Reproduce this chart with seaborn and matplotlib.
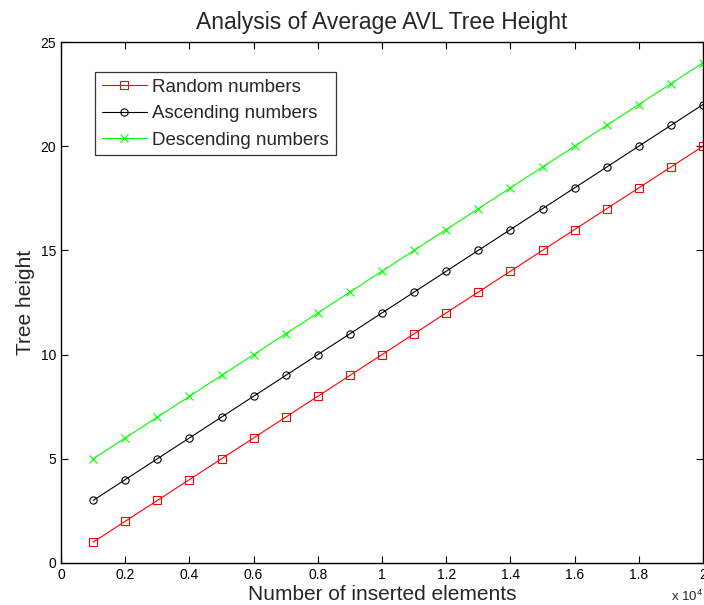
import numpy as np
import pandas as pd
import matplotlib
matplotlib.use("Agg")
import matplotlib.pyplot as plt
from matplotlib.ticker import FuncFormatter
import seaborn as sns

# Data
n_elements = [1000, 2000, 3000, 4000, 5000, 6000, 7000, 8000, 9000, 10000,
              11000, 12000, 13000, 14000, 15000, 16000, 17000, 18000, 19000, 20000]
random_height = [1, 2, 3, 4, 5, 6, 7, 8, 9, 10, 11, 12, 13, 14, 15, 16, 17, 18, 19, 20]
ascending_height = [3, 4, 5, 6, 7, 8, 9, 10, 11, 12, 13, 14, 15, 16, 17, 18, 19, 20, 21, 22]
descending_height = [5, 6, 7, 8, 9, 10, 11, 12, 13, 14, 15, 16, 17, 18, 19, 20, 21, 22, 23, 24]

series = [
    ("Random numbers", random_height, "#ff0000", "s"),
    ("Ascending numbers", ascending_height, "#000000", "o"),
    ("Descending numbers", descending_height, "#00ff00", "x"),
]

sns.set_style("white")
plt.rcParams["font.family"] = ["Liberation Sans", "DejaVu Sans"]
plt.rcParams["mathtext.fontset"] = "custom"
plt.rcParams["mathtext.rm"] = "Liberation Sans"

fig = plt.figure(figsize=(7.04, 6.05), dpi=100)
ax = fig.add_axes([61 / 704, 42 / 605, 642 / 704, 521 / 605])

for label, values, color, marker in series:
    df = pd.DataFrame({"n": n_elements, "h": values})
    sns.lineplot(data=df, x="n", y="h", ax=ax, color=color, marker=marker,
                 markersize=5.2, markerfacecolor="none", markeredgecolor=color,
                 markeredgewidth=0.8, linewidth=0.8, label=label)

ax.set_xlim(0, 20000)
ax.set_ylim(0, 25)
ax.set_xticks(np.arange(0, 20001, 2000))
ax.set_yticks(np.arange(0, 26, 5))
ax.xaxis.set_major_formatter(FuncFormatter(lambda v, p: f"{v / 1e4:g}"))
ax.tick_params(direction="in", length=5, width=0.8, labelsize=10,
               top=True, right=True, bottom=True, left=True, colors="black")
for s in ax.spines.values():
    s.set_color("black")
    s.set_linewidth(1.0)

ax.set_title("Analysis of Average AVL Tree Height", fontsize=16.5, pad=9)
ax.set_xlabel("Number of inserted elements", fontsize=15, labelpad=2)
ax.set_ylabel("Tree height", fontsize=15, labelpad=4)
ax.text(1.0, -0.065, r"x 10$^{4}$", transform=ax.transAxes, ha="right",
        va="center", fontsize=9.5)

leg = ax.legend(loc="upper left", bbox_to_anchor=(34 / 642, 1 - 30 / 521),
                fontsize=13.5, frameon=True, fancybox=False, borderpad=0.35,
                handlelength=2.4, handletextpad=0.3, labelspacing=0.5,
                borderaxespad=0)
leg.get_frame().set_edgecolor("black")
leg.get_frame().set_linewidth(0.9)

fig.savefig("out.png", dpi=100)
